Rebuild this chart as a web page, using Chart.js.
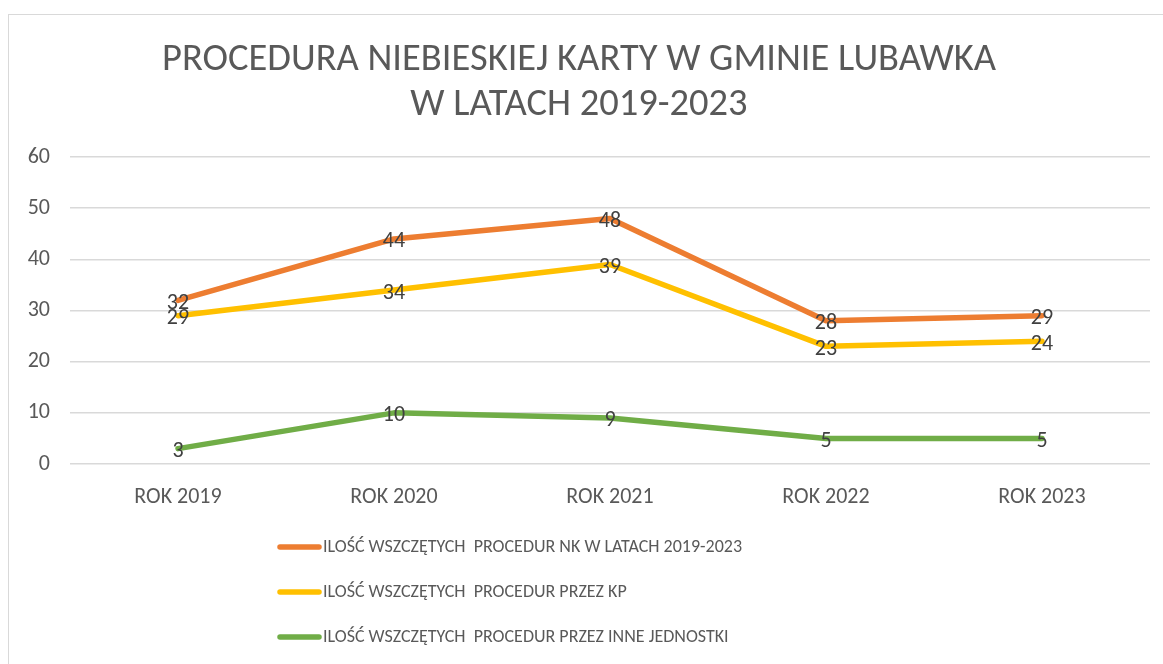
<!DOCTYPE html>
<html>
<head>
<meta charset="utf-8">
<script src="https://cdn.jsdelivr.net/npm/chart.js@4"></script>
<style>
html, body { margin: 0; padding: 0; background: #fff; }
#wrap { position: relative; width: 1163px; height: 664px; overflow: hidden; }
#frame { position: absolute; left: 8px; top: 14px; width: 1200px; height: 700px; border: 1.5px solid #d9d9d9; box-sizing: border-box; }
canvas { position: absolute; left: 0; top: 0; }
</style>
</head>
<body>
<div id="wrap">
  <div id="frame"></div>
  <canvas id="chart" width="1163" height="664"></canvas>
</div>
<script>
// dane z wykresu
const years = ["ROK 2019", "ROK 2020", "ROK 2021", "ROK 2022", "ROK 2023"];
const allProcedures = [32, 44, 48, 28, 29];
const policeProcedures = [29, 34, 39, 23, 24];
const otherProcedures = [3, 10, 9, 5, 5];
const seriesNames = [
  "ILOŚĆ WSZCZĘTYCH  PROCEDUR NK W LATACH 2019-2023",
  "ILOŚĆ WSZCZĘTYCH  PROCEDUR PRZEZ KP",
  "ILOŚĆ WSZCZĘTYCH  PROCEDUR PRZEZ INNE JEDNOSTKI"
];
const yTicks = [0, 10, 20, 30, 40, 50, 60];
const titleLines = ["PROCEDURA NIEBIESKIEJ KARTY W GMINIE LUBAWKA", "W LATACH 2019-2023"];

const fontFamily = "Carlito, Lato, sans-serif";
const textGrey = "#595959";

// etykiety wartosci na punktach
const pointLabels = {
  id: "pointLabels",
  afterDatasetsDraw(chart) {
    const ctx = chart.ctx;
    ctx.save();
    ctx.font = "22px " + fontFamily;
    ctx.fillStyle = "#404040";
    ctx.textAlign = "center";
    ctx.textBaseline = "middle";
    chart.data.datasets.forEach((ds, i) => {
      chart.getDatasetMeta(i).data.forEach((pt, j) => {
        ctx.fillText(ds.data[j], pt.x, pt.y + 3);
      });
    });
    ctx.restore();
  }
};

// legenda w jednej kolumnie
const legendRows = {
  id: "legendRows",
  afterDraw(chart) {
    const ctx = chart.ctx;
    const top = chart.chartArea.bottom + 83;
    chart.data.datasets.forEach((ds, i) => {
      const y = top + i * 45;
      ctx.save();
      ctx.strokeStyle = ds.borderColor;
      ctx.lineWidth = 5.5;
      ctx.lineCap = "round";
      ctx.beginPath();
      ctx.moveTo(280, y);
      ctx.lineTo(319, y);
      ctx.stroke();
      ctx.fillStyle = textGrey;
      ctx.font = "18px " + fontFamily;
      ctx.textBaseline = "middle";
      ctx.fillText(ds.label, 323, y);
      ctx.restore();
    });
  }
};

function lineSet(label, data, color) {
  return {
    label: label,
    data: data,
    borderColor: color,
    backgroundColor: color,
    borderWidth: 5.5,
    pointRadius: 0,
    tension: 0,
    borderCapStyle: "round",
    borderJoinStyle: "round"
  };
}

new Chart("chart", {
  type: "line",
  data: {
    labels: years,
    datasets: [
      lineSet(seriesNames[0], allProcedures, "#ED7D31"),
      lineSet(seriesNames[1], policeProcedures, "#FFC000"),
      lineSet(seriesNames[2], otherProcedures, "#70AD47")
    ]
  },
  options: {
    responsive: false,
    animation: false,
    layout: { padding: { left: 8, right: 13, top: 0, bottom: 150 } },
    plugins: {
      legend: { display: false },
      tooltip: { enabled: false },
      title: {
        display: true,
        text: titleLines,
        color: textGrey,
        font: { family: fontFamily, size: 38.5, weight: "normal", lineHeight: 1.17 },
        padding: { top: 38, bottom: 29 }
      }
    },
    scales: {
      x: {
        offset: true,
        grid: { display: false, drawTicks: false },
        border: { display: false },
        ticks: { color: textGrey, font: { family: fontFamily, size: 22 }, padding: 20 },
        afterFit(scale) { scale.height = 50; }
      },
      y: {
        min: 0,
        max: 60,
        afterBuildTicks(scale) { scale.ticks = yTicks.map(v => ({ value: v })); },
        ticks: { color: textGrey, font: { family: fontFamily, size: 22 }, padding: 20 },
        grid: { color: "#d9d9d9", lineWidth: 1.5, drawTicks: false },
        border: { display: false },
        afterFit(scale) { scale.width = 62; }
      }
    }
  },
  plugins: [pointLabels, legendRows]
});
</script>
</body>
</html>
